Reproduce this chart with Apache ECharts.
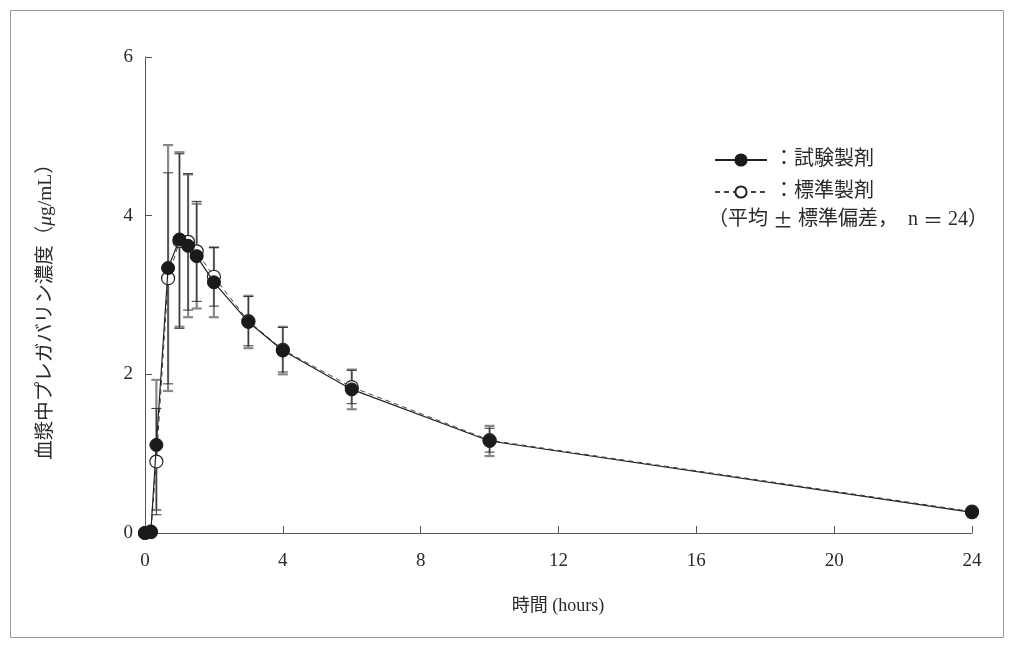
<!DOCTYPE html>
<html>
<head>
<meta charset="utf-8">
<script src="https://cdn.jsdelivr.net/npm/echarts@6/dist/echarts.min.js"></script>
<style>html,body{margin:0;padding:0;background:#fff;}#c{width:1014px;height:648px;}</style>
</head>
<body>
<div id="c"></div>
<script>
// ---- data ----
const times    = [0, 0.17, 0.33, 0.67, 1, 1.25, 1.5, 2, 3, 4, 6, 10, 24];
const testMean = [0, 0.02, 1.11, 3.34, 3.70, 3.62, 3.49, 3.16, 2.66, 2.30, 1.81, 1.16, 0.26];
const testSD   = [0, 0.03, 0.82, 1.55, 1.10, 0.90, 0.66, 0.44, 0.33, 0.30, 0.25, 0.19, 0.06];
const refMean  = [0, 0.01, 0.90, 3.21, 3.68, 3.67, 3.55, 3.23, 2.67, 2.31, 1.84, 1.17, 0.27];
const refSD    = [0, 0.02, 0.67, 1.33, 1.10, 0.86, 0.63, 0.37, 0.31, 0.28, 0.21, 0.15, 0.05];
const xTicks = [0, 4, 8, 12, 16, 20, 24];
const yTicks = [0, 2, 4, 6];
const testName = '：試験製剤';
const refName = '：標準製剤';
const noteText = '（平均 {c|±} 標準偏差，  n {c|＝} 24）';
const xTitle = '時間 (hours)';
const yTitle = '血漿中プレガバリン濃度（{i|μ}g/mL）';

const FONT = "'Liberation Serif', 'Noto Sans CJK JP', serif";
const CJK = "'Noto Sans CJK JP', sans-serif";
const TXT = '#2a2a2a';

function pts(m){ return times.map((t,i)=>[t, m[i]]); }
function bars(m, s){ return times.map((t,i)=>[t, m[i]-s[i], m[i]+s[i]]).filter((d,i)=>s[i]>0.04); }

function barRenderer(color, width, cap){
  return function(params, api){
    const x = api.value(0), lo = api.value(1), hi = api.value(2);
    const a = api.coord([x, hi]), b = api.coord([x, lo]);
    const st = {stroke: color, lineWidth: width};
    return {type:'group', children:[
      {type:'line', shape:{x1:a[0], y1:a[1], x2:b[0], y2:b[1]}, style: st},
      {type:'line', shape:{x1:a[0]-cap, y1:a[1], x2:a[0]+cap, y2:a[1]}, style: st},
      {type:'line', shape:{x1:b[0]-cap, y1:b[1], x2:b[0]+cap, y2:b[1]}, style: st}
    ]};
  };
}

const chart = echarts.init(document.getElementById('c'), null, {renderer:'canvas'});
chart.setOption({
  animation: false,
  backgroundColor: '#fff',
  grid: {left:145, right:42, top:57, bottom:115, containLabel:false},
  xAxis: {
    type:'value', min:0, max:24, interval:4,
    axisLine:{lineStyle:{color:'#555', width:1}},
    axisTick:{inside:true, length:7, lineStyle:{color:'#555'}},
    axisLabel:{color:TXT, fontFamily:FONT, fontSize:19, margin:19,
      formatter: v => xTicks.includes(v) ? String(v) : ''},
    splitLine:{show:false}
  },
  yAxis: {
    type:'value', min:0, max:6, interval:2,
    axisLine:{show:true, lineStyle:{color:'#555', width:1}},
    axisTick:{show:true, inside:true, length:7, lineStyle:{color:'#555'}},
    axisLabel:{color:TXT, fontFamily:FONT, fontSize:19, margin:12,
      formatter: v => yTicks.includes(v) ? String(v) : ''},
    splitLine:{show:false}
  },
  legend: {
    orient:'vertical', left:709, top:145, itemWidth:52, itemHeight:14, itemGap:12,
    data:[testName, refName],
    textStyle:{color:TXT, fontFamily:FONT, fontSize:20, padding:[0,0,0,2]}
  },
  series: [
    {type:'custom', name:'testSD', z:2, renderItem: barRenderer('#888', 2.2, 5),
      data: bars(testMean, testSD), encode:{x:0, y:[1,2]}, silent:true},
    {type:'custom', name:'refSD', z:3, renderItem: barRenderer('#333', 1, 5),
      data: bars(refMean, refSD), encode:{x:0, y:[1,2]}, silent:true},
    {type:'line', name:refName, z:4, data: pts(refMean), symbol:'circle', symbolSize:13,
      showAllSymbol:true,
      lineStyle:{color:'#444', width:1, type:[5,4]},
      itemStyle:{color:'#fff', borderColor:'#222', borderWidth:1.2}},
    {type:'line', name:testName, z:5, data: pts(testMean), symbol:'circle', symbolSize:13,
      showAllSymbol:true,
      lineStyle:{color:'#222', width:1.2},
      itemStyle:{color:'#1a1a1a', borderColor:'#1a1a1a', borderWidth:1}}
  ],
  graphic: [
    {type:'rect', shape:{x:10.5, y:10.5, width:993, height:627}, style:{fill:'none', stroke:'#999', lineWidth:1}, silent:true},
    {type:'text', x:708, y:220,
      style:{text:noteText, fill:TXT, font:"20px " + FONT, verticalAlign:'middle',
        rich:{c:{fontFamily:CJK, fontSize:20, fill:TXT}}}},
    {type:'text', x:558, y:606, style:{text:xTitle, fill:TXT, font:"18px " + FONT, align:'center', verticalAlign:'middle'}},
    {type:'text', x:46, y:307, rotation:Math.PI/2,
      style:{text:yTitle, fill:TXT, font:"19.5px " + FONT, align:'center', verticalAlign:'middle',
        rich:{i:{fontStyle:'italic', fontFamily:FONT, fontSize:19.5, fill:TXT}}}}
  ]
});
</script>
</body>
</html>
